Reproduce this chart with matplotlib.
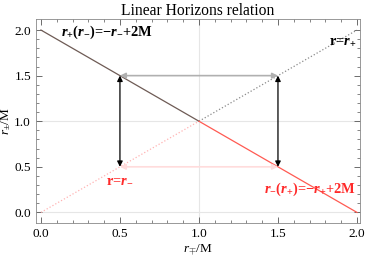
import matplotlib
matplotlib.use("Agg")
import matplotlib.pyplot as plt
import numpy as np

plt.rcParams['font.family'] = ['Liberation Serif', 'DejaVu Serif']
plt.rcParams['mathtext.fontset'] = 'custom'
plt.rcParams['mathtext.rm'] = 'Liberation Serif'
plt.rcParams['mathtext.it'] = 'Liberation Serif:italic'
plt.rcParams['mathtext.bf'] = 'Liberation Serif:bold'
plt.rcParams['mathtext.bfit'] = 'Liberation Serif:bold:italic'

# data
r_upper_x = [0.0, 1.0]
r_upper_y = [2.0, 1.0]
r_lower_x = [1.0, 2.0]
r_lower_y = [1.0, 0.0]
diag_plus_x = [1.0, 2.0]
diag_plus_y = [1.0, 2.0]
diag_minus_x = [0.0, 1.0]
diag_minus_y = [0.0, 1.0]
arrow_x = [0.5, 1.5]
arrow_lo, arrow_hi = 0.5, 1.5
ticks = [0.0, 0.5, 1.0, 1.5, 2.0]

fig = plt.figure(figsize=(3.66, 2.58), dpi=100)
ax = fig.add_axes([0.098, 0.136, 0.886, 0.79])

for g in [0.0, 1.0]:
    ax.axhline(g, color='#e6e6e6', lw=0.8, zorder=0)
ax.axvline(1.0, color='#e6e6e6', lw=0.8, zorder=0)

ax.plot(diag_plus_x, diag_plus_y, ls=':', color='#8a8a8a', lw=0.9)
ax.plot(diag_minus_x, diag_minus_y, ls=':', color='#ffb3b3', lw=0.9)
ax.plot(r_upper_x, r_upper_y, color='#6e5b55', lw=0.9)
ax.plot(r_lower_x, r_lower_y, color='#ff5a52', lw=0.9)

for xa in arrow_x:
    ax.annotate('', xy=(xa, arrow_hi), xytext=(xa, arrow_lo),
                arrowprops=dict(arrowstyle='<|-|>', color='black', lw=0.9,
                                mutation_scale=8, shrinkA=0, shrinkB=0))
ax.annotate('', xy=(arrow_x[1], arrow_hi), xytext=(arrow_x[0], arrow_hi),
            arrowprops=dict(arrowstyle='<|-|>', color='#b0b0b0', lw=1.2,
                            mutation_scale=8, shrinkA=0, shrinkB=0))
ax.annotate('', xy=(arrow_x[1], arrow_lo), xytext=(arrow_x[0], arrow_lo),
            arrowprops=dict(arrowstyle='<|-|>', color='#ffdcdc', lw=1.2,
                            mutation_scale=8, shrinkA=0, shrinkB=0))

lab_kw = dict(fontsize=10.4, fontweight='bold', ha='center', va='center')
ax.text(0.42, 1.97, r'$\mathbfit{r}_{\mathbf{+}}\mathbf{(}\mathbfit{r}_{\mathbf{-}}\mathbf{)}$=$\mathbf{-}\mathbfit{r}_{\mathbf{-}}$+2M',
        color='black', **lab_kw)
ax.text(1.91, 1.87, r'r=$\mathbfit{r}_{\mathbf{+}}$', color='black', **lab_kw)
ax.text(0.50, 0.36, r'r=$\mathbfit{r}_{\mathbf{-}}$', color='#ff2a2a', **lab_kw)
ax.text(1.70, 0.25, r'$\mathbfit{r}_{\mathbf{-}}\mathbf{(}\mathbfit{r}_{\mathbf{+}}\mathbf{)}$=$\mathbf{-}\mathbfit{r}_{\mathbf{+}}$+2M',
        color='#ff2a2a', **lab_kw)

ax.set_xlim(-0.032, 2.02)
ax.set_ylim(-0.115, 2.12)
ax.set_xticks(ticks)
ax.set_yticks(ticks)
ax.set_xticklabels([f'{t:.1f}' for t in ticks])
ax.set_yticklabels([f'{t:.1f}' for t in ticks])
ax.set_xticks(np.arange(0, 2.01, 0.1), minor=True)
ax.set_yticks(np.arange(0, 2.01, 0.1), minor=True)
ax.tick_params(which='both', direction='in', top=True, right=True,
               labelsize=9.5, color='#555555')
ax.tick_params(which='major', length=4, width=0.6)
ax.tick_params(which='minor', length=2, width=0.5)
for s in ax.spines.values():
    s.set_color('#888888')
    s.set_linewidth(0.6)

ax.set_xlabel(r'$r_{\mp}$/M', fontsize=9.5, labelpad=2)
ax.set_ylabel(r'$r_{\pm}$/M', fontsize=9.5, labelpad=1)
ax.set_title('Linear Horizons relation', fontsize=11.2, pad=3)

fig.savefig('out.png', dpi=100)
